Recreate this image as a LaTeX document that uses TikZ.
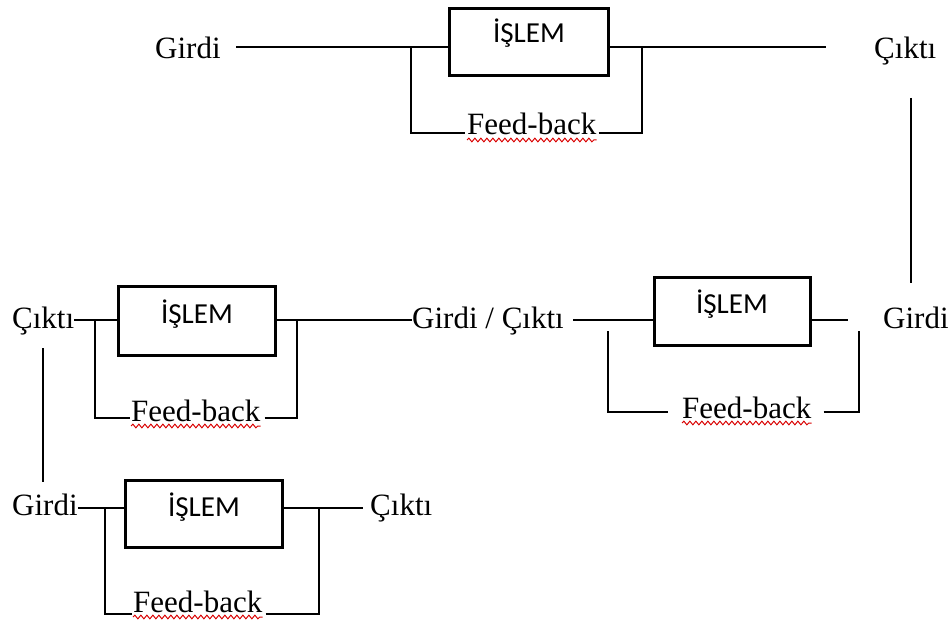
\documentclass[tikz,border=0pt]{standalone}
\usepackage{fontspec}
\setmainfont{Liberation Serif}
\newfontfamily\calibrifont{Carlito}
\usetikzlibrary{decorations.pathmorphing}
\begin{document}
\begin{tikzpicture}[x=1pt,y=-1pt,
  lab/.style={font=\fontsize{31}{37}\selectfont,inner sep=0pt,anchor=base west},
  proc/.style={draw,line width=3pt,inner sep=0pt,anchor=north west},
  islem/.style={font=\calibrifont\fontsize{29}{34}\selectfont,inner sep=0pt,anchor=base},
  wire/.style={line width=1.5pt},
  spell/.style={red!85!black,line width=1pt,decorate,decoration={snake,segment length=6pt,amplitude=1.8pt}}]
\useasboundingbox (0,0) rectangle (950,620);
\fill[white] (0,0) rectangle (950,620);

% ---------- top block ----------
\node[proc,minimum width=159pt,minimum height=67pt] (b1) at (448,7) {};
\node[islem] (i1) at (529,43) {İŞLEM};
\node[lab] (g1) at (155,59) {Girdi};
\node[lab] (c1) at (874,59) {Çıktı};
\node[lab] (fb1) at (467,135) {Feed-back};
\coordinate (t-in) at (236,47);
\coordinate (t-jl) at (411,47);
\coordinate (t-jr) at (642,47);
\coordinate (t-out) at (826,47);
\coordinate (t-bl) at (411,133);
\coordinate (t-br) at (642,133);
\draw[wire] (t-in) -- (b1.west |- t-in);
\draw[wire] (b1.east |- t-out) -- (t-out);
\draw[wire] (t-jl) -- (t-bl) -- ([xshift=-2pt]fb1.west |- t-bl);
\draw[wire] ([xshift=2pt]fb1.east |- t-br) -- (t-br) -- (t-jr);
\draw[spell] ([yshift=-5pt]fb1.base west) -- ([yshift=-5pt]fb1.base east);

% connector top Çıktı -> right Girdi
\coordinate (v1a) at (911,98);
\coordinate (v1b) at (911,283);
\draw[wire] (v1a) -- (v1b);

% ---------- middle right block ----------
\node[proc,minimum width=156pt,minimum height=68pt] (b2) at (653,276) {};
\node[islem] (i2) at (732,313) {İŞLEM};
\node[lab] (g2) at (883,328) {Girdi};
\node[lab] (gc) at (412,328) {Girdi / Çıktı};
\node[lab] (fb2) at (682,418) {Feed-back};
\coordinate (r-in) at (573,320);
\coordinate (r-out) at (848,320);
\coordinate (r-jl) at (608,331);
\coordinate (r-jr) at (859,331);
\coordinate (r-bl) at (608,412);
\coordinate (r-br) at (859,412);
\draw[wire] (r-in) -- (b2.west |- r-in);
\draw[wire] (b2.east |- r-out) -- (r-out);
\draw[wire] (r-jl) -- (r-bl) -- ([xshift=-14pt]fb2.west |- r-bl);
\draw[wire] ([xshift=12pt]fb2.east |- r-br) -- (r-br) -- (r-jr);
\draw[spell] ([yshift=-5pt]fb2.base west) -- ([yshift=-5pt]fb2.base east);

% ---------- middle left block ----------
\node[proc,minimum width=157pt,minimum height=69pt] (b3) at (117,285) {};
\node[islem] (i3) at (197,323) {İŞLEM};
\node[lab] (c2) at (12,328) {Çıktı};
\node[lab] (fb3) at (131,421) {Feed-back};
\coordinate (l-jl) at (95,320);
\coordinate (l-jr) at (297,320);
\coordinate (l-bl) at (95,418);
\coordinate (l-br) at (297,418);
\draw[wire] (c2.east |- l-jl) -- (b3.west |- l-jl);
\draw[wire] (b3.east |- l-jr) -- (gc.west |- l-jr);
\draw[wire] (l-jl) -- (l-bl) -- ([xshift=-1pt]fb3.west |- l-bl);
\draw[wire] ([xshift=4pt]fb3.east |- l-br) -- (l-br) -- (l-jr);
\draw[spell] ([yshift=-5pt]fb3.base west) -- ([yshift=-5pt]fb3.base east);

% connector left Çıktı -> bottom Girdi
\coordinate (v2a) at (43,348);
\coordinate (v2b) at (43,482);
\draw[wire] (v2a) -- (v2b);

% ---------- bottom block ----------
\node[proc,minimum width=157pt,minimum height=67pt] (b4) at (124,479) {};
\node[islem] (i4) at (204,516) {İŞLEM};
\node[lab] (g3) at (12,515) {Girdi};
\node[lab] (c3) at (370,515) {Çıktı};
\node[lab] (fb4) at (133,612) {Feed-back};
\coordinate (d-jl) at (105,508);
\coordinate (d-jr) at (319,508);
\coordinate (d-bl) at (105,614);
\coordinate (d-br) at (319,614);
\coordinate (d-out) at (363,508);
\draw[wire] (g3.east |- d-jl) -- (b4.west |- d-jl);
\draw[wire] (b4.east |- d-jr) -- (d-out);
\draw[wire] (d-jl) -- (d-bl) -- ([xshift=-1pt]fb4.west |- d-bl);
\draw[wire] ([xshift=3pt]fb4.east |- d-br) -- (d-br) -- (d-jr);
\draw[spell] ([yshift=-5pt]fb4.base west) -- ([yshift=-5pt]fb4.base east);
\end{tikzpicture}
\end{document}
